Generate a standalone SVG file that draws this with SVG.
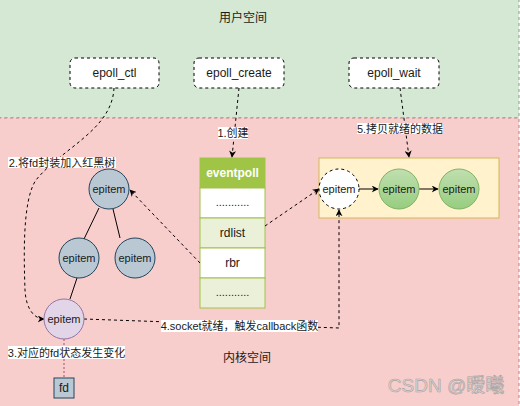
<svg xmlns="http://www.w3.org/2000/svg" width="520" height="406" viewBox="0 0 520 406">
<style>
text{font-family:"Liberation Sans","Noto Sans CJK SC",sans-serif;text-anchor:middle;dominant-baseline:central;fill:#1a1a1a}
.api{fill:#fff;stroke:#000;stroke-dasharray:3 3}
.t12{font-size:12px}
.t11{font-size:11px}
.lbl{fill:#fff}
.tree{fill:#bac8d3;stroke:#23445d}
.grn{fill:url(#g);stroke:#82b366}
.dash{fill:none;stroke:#000;stroke-dasharray:3 3}
.solid{fill:none;stroke:#000}
.row{stroke:#a2c04c}
</style>
<defs>
<linearGradient id="g" x1="0" y1="0" x2="0" y2="1"><stop offset="0" stop-color="#c0dfb0"/><stop offset="1" stop-color="#97cd7f"/></linearGradient>
<marker id="a" viewBox="0 0 10 10" refX="9" refY="5" markerWidth="7" markerHeight="7" orient="auto" markerUnits="userSpaceOnUse"><path d="M0,0 L10,5 L0,10 L3,5 z" fill="#000"/></marker>
</defs>
<g id="regions">
<rect x="-2" y="-2" width="521" height="120" fill="#d5e8d4" stroke="#8c9e88" stroke-dasharray="3 3"/>
<rect x="-2" y="118" width="521" height="290" fill="#f8cecc" stroke="#b08886" stroke-dasharray="3 3"/>
<text x="243" y="18" class="t12">用户空间</text>
<text x="247" y="358" class="t12">内核空间</text>
</g>
<g id="epoll_ctl"><rect x="70" y="58" width="89" height="30" rx="5" class="api"/><text x="114.5" y="73" class="t12">epoll_ctl</text></g>
<g id="epoll_create"><rect x="194" y="58" width="90" height="30" rx="5" class="api"/><text x="239" y="73" class="t12">epoll_create</text></g>
<g id="epoll_wait"><rect x="349" y="58" width="90" height="30" rx="5" class="api"/><text x="394" y="73" class="t12">epoll_wait</text></g>
<g id="eventpoll">
<rect x="200" y="158" width="65" height="30" fill="#a0c546" stroke="#a0c546"/>
<text x="232.5" y="173" class="t12" style="fill:#fff;font-weight:bold">eventpoll</text>
<rect x="200" y="188" width="65" height="30" fill="#fff" class="row"/>
<text x="232.5" y="202" class="t11">...........</text>
<rect x="200" y="218" width="65" height="30" fill="#ebf1d8" class="row"/>
<text x="232.5" y="233" class="t12">rdlist</text>
<rect x="200" y="248" width="65" height="30" fill="#fff" class="row"/>
<text x="232.5" y="263" class="t12">rbr</text>
<rect x="200" y="278" width="65" height="30" fill="#ebf1d8" class="row"/>
<text x="232.5" y="292" class="t11">...........</text>
</g>
<g id="readylist"><rect x="319" y="158" width="180" height="60" fill="#fff2cc" stroke="#d6b656"/></g>
<g id="connectors">
<line x1="99" y1="208" x2="84" y2="239" class="solid"/>
<line x1="113" y1="209" x2="120" y2="238" class="solid"/>
<line x1="77" y1="278" x2="70" y2="299" class="solid"/>
<line x1="359" y1="189" x2="378" y2="189" class="solid" marker-end="url(#a)"/>
<line x1="419" y1="189" x2="438" y2="189" class="solid" marker-end="url(#a)"/>
<path d="M114,88 C112,130 62,148 36,180 C22,200 24,260 25,290 C26,310 35,319 44,319" class="dash" marker-end="url(#a)"/>
<line x1="239" y1="88" x2="232" y2="157" class="dash" marker-end="url(#a)"/>
<line x1="400" y1="88" x2="409" y2="157" class="dash" marker-end="url(#a)"/>
<line x1="200" y1="263" x2="130" y2="190" class="dash" marker-end="url(#a)"/>
<line x1="265" y1="226" x2="319" y2="189" class="dash" marker-end="url(#a)"/>
<path d="M84,319 L339,328 L339,210" class="dash" marker-end="url(#a)"/>
<line x1="64" y1="339" x2="64" y2="378" fill="none" stroke="#a0506a" stroke-dasharray="2 2"/>
<rect x="8" y="157" width="108" height="11" class="lbl"/>
<text x="62" y="162.5" class="t11">2.将fd封装加入红黑树</text>
<rect x="218" y="127" width="30" height="12" class="lbl"/>
<text x="233" y="133" class="t11">1.创建</text>
<rect x="357" y="123" width="86" height="11" class="lbl"/>
<text x="400" y="128.5" class="t11">5.拷贝就绪的数据</text>
<rect x="161" y="320" width="157" height="12" class="lbl"/>
<text x="239.5" y="326" class="t11">4.socket就绪，触发callback函数</text>
<rect x="8" y="346" width="117" height="13" class="lbl"/>
<text x="66.5" y="352.5" class="t11">3.对应的fd状态发生变化</text>
</g>
<g id="epitem_root"><circle cx="109" cy="189" r="20" class="tree"/><text x="109" y="189" class="t11">epitem</text></g>
<g id="epitem_left"><circle cx="79" cy="258" r="20" class="tree"/><text x="79" y="258" class="t11">epitem</text></g>
<g id="epitem_right"><circle cx="135" cy="258" r="20" class="tree"/><text x="135" y="258" class="t11">epitem</text></g>
<g id="epitem_fd"><circle cx="64" cy="319" r="20" fill="#e1d5e7" stroke="#9673a6"/><text x="64" y="319" class="t11">epitem</text></g>
<g id="fd"><rect x="54" y="378" width="20" height="20" class="tree"/><text x="64" y="388" class="t12">fd</text></g>
<g id="epitem_ready1"><circle cx="339" cy="189" r="20" fill="#fff" stroke="#000" stroke-dasharray="3 3"/><text x="339" y="189" class="t11">epitem</text></g>
<g id="epitem_ready2"><circle cx="399" cy="189" r="20" class="grn"/><text x="399" y="189" class="t11">epitem</text></g>
<g id="epitem_ready3"><circle cx="459" cy="189" r="20" class="grn"/><text x="459" y="189" class="t11">epitem</text></g>
<g id="watermark"><text x="446" y="385" style="font-size:19px;fill:#d8d8d8;stroke:#9a9a9a;stroke-width:0.6" opacity="0.85">CSDN @暧曦</text></g>
</svg>
